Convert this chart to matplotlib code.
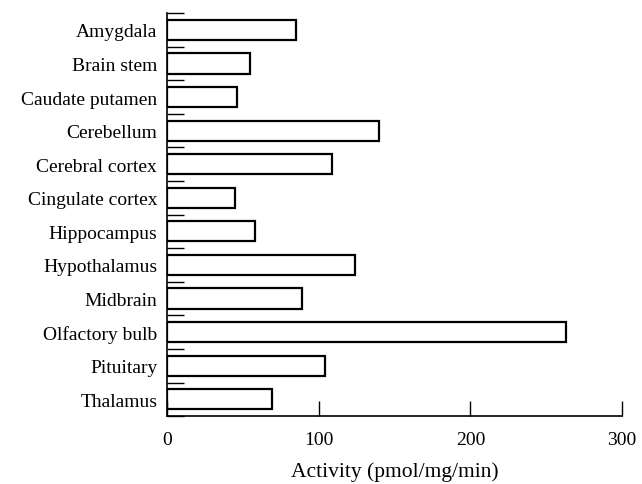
import numpy as np
import matplotlib
matplotlib.use("Agg")
import matplotlib.pyplot as plt

# -------- DATA --------
regions = ["Amygdala", "Brain stem", "Caudate putamen", "Cerebellum",
           "Cerebral cortex", "Cingulate cortex", "Hippocampus",
           "Hypothalamus", "Midbrain", "Olfactory bulb", "Pituitary",
           "Thalamus"]
activity = [85, 55, 46, 140, 109, 45, 58, 124, 89, 263, 104, 69]
xticks = [0, 100, 200, 300]

plt.rcParams['font.family'] = ['Liberation Serif', 'DejaVu Serif']

fig = plt.figure(figsize=(6.42, 4.85), dpi=100)
ax = fig.add_axes([0.260, 0.140, 0.709, 0.831])

ypos = np.arange(len(regions))
ax.barh(ypos, activity, height=0.6, color="white", edgecolor="black",
        linewidth=1.6)

ax.set_ylim(len(regions) - 0.5, -0.5)
ax.set_xlim(0, 300)

# category labels, no tick marks at the centres
ax.set_yticks(ypos)
ax.set_yticklabels(regions, fontsize=14)
ax.tick_params(axis="y", which="major", length=0, pad=7)
# short ticks at the boundaries between categories
ax.set_yticks(np.arange(-0.5, len(regions)), minor=True)
ax.tick_params(axis="y", which="minor", direction="in", length=12, width=1)

ax.set_xticks(xticks)
ax.set_xticklabels([str(v) for v in xticks], fontsize=14)
ax.tick_params(axis="x", direction="in", length=11, width=1, pad=11)
ax.set_xlabel("Activity (pmol/mg/min)", fontsize=15.5, labelpad=9)

ax.spines["top"].set_visible(False)
ax.spines["right"].set_visible(False)
ax.spines["left"].set_linewidth(1.2)
ax.spines["bottom"].set_linewidth(1.2)

fig.savefig("out.png", dpi=100)
